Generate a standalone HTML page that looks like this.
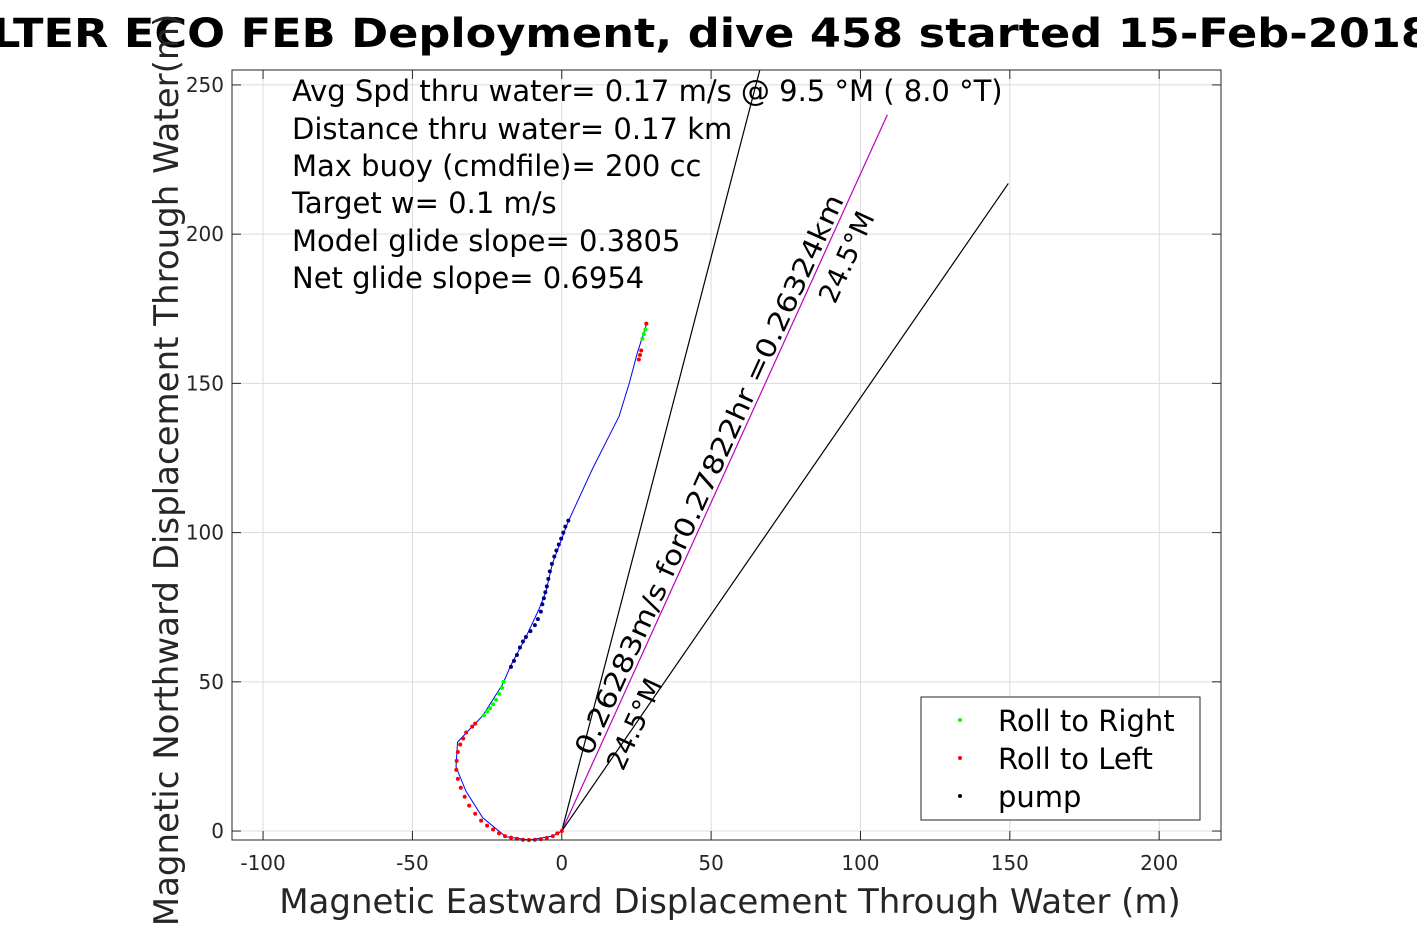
<!DOCTYPE html>
<html><head><meta charset="utf-8"><style>
html,body{margin:0;padding:0;background:#fff;}
svg{display:block;font-family:"DejaVu Sans","Liberation Sans",sans-serif;}
</style></head><body>
<svg id="chart" width="1417" height="945" viewBox="0 0 1417 945" xmlns="http://www.w3.org/2000/svg">
<rect width="1417" height="945" fill="#fff"/>
<g id="grid"></g>
<g id="ticks"></g>
<g id="series"></g>
<rect x="232" y="70" width="989" height="770" fill="none" stroke="#262626" stroke-width="1"/>
<text x="-8" y="47" font-size="40" font-weight="bold" textLength="1440" lengthAdjust="spacingAndGlyphs" fill="#000">LTER ECO FEB Deployment, dive 458 started 15-Feb-2018</text>
<text transform="translate(178,470) rotate(-90)" text-anchor="middle" font-size="34" fill="#262626">Magnetic Northward Displacement Through Water(m)</text>
<text x="730" y="913" text-anchor="middle" font-size="34" fill="#262626">Magnetic Eastward Displacement Through Water (m)</text>
<g font-size="29" fill="#000">
<text x="292" y="101">Avg Spd thru water=  0.17 m/s @   9.5 °M (  8.0 °T)</text>
<text x="292" y="139">Distance thru water=  0.17 km</text>
<text x="292" y="176">Max buoy (cmdfile)= 200 cc</text>
<text x="292" y="213">Target w= 0.1 m/s</text>
<text x="292" y="251">Model glide slope= 0.3805</text>
<text x="292" y="288">Net glide slope= 0.6954</text>
</g>
<g id="labels"></g>
<g>
<rect x="921" y="697" width="279" height="123" fill="#fff" stroke="#262626" stroke-width="1"/>
<circle cx="960" cy="720" r="2" fill="#00ff00"/>
<text x="998" y="731" font-size="29">Roll to Right</text>
<circle cx="960" cy="758" r="2" fill="#ff0000"/>
<text x="998" y="769" font-size="29">Roll to Left</text>
<circle cx="960" cy="796" r="2" fill="#000"/>
<text x="998" y="807" font-size="29">pump</text>
</g>
</svg>
<script>
const xTicks=[-100,-50,0,50,100,150,200];
const yTicks=[0,50,100,150,200,250];
const trackX=[0,-3.1,-10.9,-18.7,-26.5,-32.1,-35.4,-34.9,-31,-26.5,-19.8,-17,-12,-7.6,-5.3,-3.1,2.2,10.3,19.2,22.5,25.3,28.3];
const trackY=[0,-1.7,-3,-1.9,4.5,13.4,21.5,29.8,33.9,38.6,49.2,55.6,65,74.4,80.3,89.7,103.8,121.4,139,149.7,160.2,169.6];
const leftX=[0,-1.5,-3,-5,-7,-9,-11,-13,-15,-17,-19,-21,-23,-25,-27,-29,-31,-32.5,-33.8,-34.8,-35.3,-35.2,-34.8,-34,-33,-32,-30,-29,25.8,26.2,26.6,28.3];
const leftY=[0,-0.8,-1.7,-2.3,-2.7,-2.9,-3,-2.9,-2.6,-2.2,-1.7,-0.8,0.5,1.8,3.5,5.8,8.5,11.5,14.5,17.5,20.5,23.5,26.5,29,31,33,35,36,158,159.5,161,170];
const rightX=[-26,-25,-24,-23,-22,-21,-20,-19.5,27,27.5,28];
const rightY=[38.8,40,41.2,42.5,44,46,48,50,165,166.5,168];
const pumpX=[-17,-16,-15,-14,-13,-12,-10.5,-9,-8,-7,-6.5,-6,-5.5,-5,-4.5,-4,-3.3,-2.5,-1.8,-1,-0.2,0.5,1.2,2.2];
const pumpY=[55,57,59,61.5,63.5,65,67,69,71,73.5,76,78,80,82,84.5,87,89.5,92,94,96,98,100,102,104];
const rayEndX=[66.3,109,149.5];
const rayEndY=[255,240,217];
const rayColors=["#000","#c000c0","#000"];
const NS="http://www.w3.org/2000/svg";
const X0=232,X1=1221,Y0=70,Y1=840,XMIN=-110.4,XMAX=220.7,YMIN=-3,YMAX=255;
const sx=v=>X0+(v-XMIN)/(XMAX-XMIN)*(X1-X0);
const sy=v=>Y1-(v-YMIN)/(YMAX-YMIN)*(Y1-Y0);
function mk(tag,attrs,parent){const e=document.createElementNS(NS,tag);for(const k in attrs)e.setAttribute(k,attrs[k]);parent.appendChild(e);return e;}
const grid=document.getElementById('grid'),ticks=document.getElementById('ticks'),series=document.getElementById('series'),labels=document.getElementById('labels');
xTicks.forEach(t=>{const x=sx(t);
 const g=mk('line',{x1:x,x2:x,y1:Y0,y2:Y1,stroke:'#dcdcdc','stroke-width':1},grid);
 
 
 mk('line',{x1:x,x2:x,y1:Y1,y2:Y1-9,stroke:'#262626'},ticks);
 mk('line',{x1:x,x2:x,y1:Y0,y2:Y0+9,stroke:'#262626'},ticks);
 const l=mk('text',{x:x,y:870,'text-anchor':'middle','font-size':20,fill:'#262626'},ticks);
 
 
 l.textContent=t;});
yTicks.forEach(t=>{const y=sy(t);
 const g=mk('line',{x1:X0,x2:X1,y1:y,y2:y,stroke:'#dcdcdc','stroke-width':1},grid);
 
 
 mk('line',{x1:X0,x2:X0+9,y1:y,y2:y,stroke:'#262626'},ticks);
 mk('line',{x1:X1,x2:X1-9,y1:y,y2:y,stroke:'#262626'},ticks);
 const l=mk('text',{x:X0-8,y:y+7,'text-anchor':'end','font-size':20,fill:'#262626'},ticks);
 
 
 l.textContent=t;});
rayEndX.forEach((ex,i)=>{const r=mk('line',{x1:sx(0),y1:sy(0),x2:sx(ex),y2:sy(rayEndY[i]),stroke:rayColors[i],'stroke-width':1.2},series);
 
 });
const tr=mk('polyline',{points:trackX.map((x,i)=>sx(x)+','+sy(trackY[i])).join(' '),fill:'none',stroke:'#0000ff','stroke-width':1},series);


function dots(xs,ys,c,name){xs.forEach((x,i)=>{const d=mk('circle',{cx:sx(x),cy:sy(ys[i]),r:2,fill:c},series);
 
 });}
dots(leftX,leftY,'#ff0000','roll-left-point');
dots(rightX,rightY,'#00ff00','roll-right-point');
dots(pumpX,pumpY,'#000080','pump-point');
const ang=-Math.atan2(sy(0)-sy(rayEndY[1]),sx(rayEndX[1])-sx(0))*180/Math.PI;
const t1=mk('text',{transform:`translate(591,757) rotate(${ang})`,'font-size':27,textLength:612,lengthAdjust:'spacingAndGlyphs',fill:'#000'},labels);


t1.textContent='0.26283m/s for0.27822hr =0.26324km';
const t2=mk('text',{transform:`translate(623,772) rotate(${ang})`,'font-size':27,fill:'#000'},labels);


t2.textContent='24.5°M';
const t3=mk('text',{transform:`translate(835,305) rotate(${ang})`,'font-size':27,fill:'#000'},labels);


t3.textContent='24.5°M';
</script>
</body></html>
